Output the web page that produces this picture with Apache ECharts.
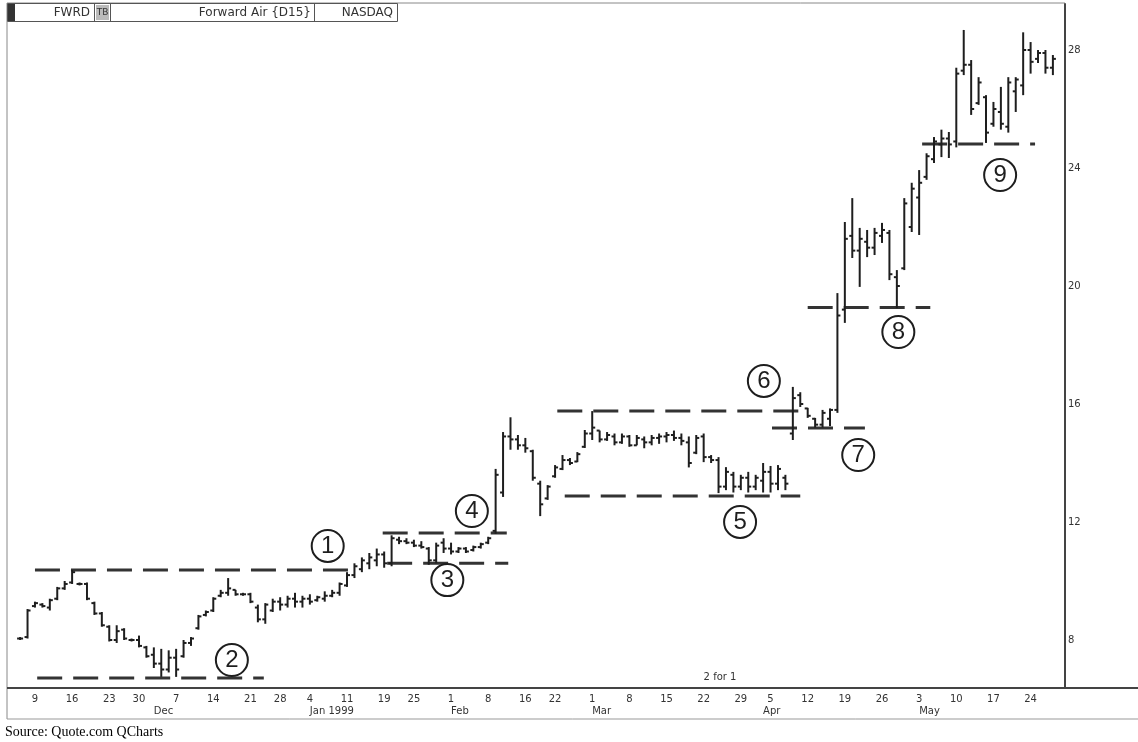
<!DOCTYPE html>
<html>
<head>
<meta charset="utf-8">
<title>FWRD</title>
<script src="https://cdn.jsdelivr.net/npm/echarts@6/dist/echarts.min.js"></script>
<style>
    html, body {margin: 0; padding: 0; background: #fff;}
    #main {width: 1138px; height: 742px;}
</style>
</head>
<body>
<div id="main"></div>
<script>
// ------------------ data (daily bars, Nov 5 1998 .. May 27 1999) ------------------
const days = [
    '11/5', '11/6', '11/9', '11/10', '11/11', '11/12', '11/13', '11/16', '11/17', '11/18', '11/19', '11/20',
    '11/23', '11/24', '11/25', '11/27', '11/30',
    '12/1', '12/2', '12/3', '12/4', '12/7', '12/8', '12/9', '12/10', '12/11', '12/14', '12/15', '12/16', '12/17', '12/18',
    '12/21', '12/22', '12/23', '12/24', '12/28', '12/29', '12/30', '12/31',
    '1/4', '1/5', '1/6', '1/7', '1/8', '1/11', '1/12', '1/13', '1/14', '1/15', '1/19', '1/20', '1/21', '1/22',
    '1/25', '1/26', '1/27', '1/28', '1/29',
    '2/1', '2/2', '2/3', '2/4', '2/5', '2/8', '2/9', '2/10', '2/11', '2/12', '2/16', '2/17', '2/18', '2/19',
    '2/22', '2/23', '2/24', '2/25', '2/26',
    '3/1', '3/2', '3/3', '3/4', '3/5', '3/8', '3/9', '3/10', '3/11', '3/12', '3/15', '3/16', '3/17', '3/18', '3/19',
    '3/22', '3/23', '3/24', '3/25', '3/26', '3/29', '3/30', '3/31',
    '4/1', '4/5', '4/6', '4/7', '4/8', '4/9', '4/12', '4/13', '4/14', '4/15', '4/16', '4/19', '4/20', '4/21', '4/22', '4/23',
    '4/26', '4/27', '4/28', '4/29', '4/30',
    '5/3', '5/4', '5/5', '5/6', '5/7', '5/10', '5/11', '5/12', '5/13', '5/14', '5/17', '5/18', '5/19', '5/20', '5/21',
    '5/24', '5/25', '5/26', '5/27'
];

const opens = [
    8.05, 8.1, 9.15, 9.2, 9.1, 9.4, 9.75, 9.95, 9.9, 9.9,
    9.25, 8.9, 8.45, 8.0, 8.35, 8.0, 8.0, 7.75, 7.5, 7.2,
    7.0, 7.4, 7.45, 7.9, 8.4, 8.85, 9.0, 9.5, 9.6, 9.7,
    9.55, 9.55, 9.1, 8.7, 9.0, 9.3, 9.2, 9.4, 9.3, 9.4,
    9.35, 9.4, 9.5, 9.6, 9.85, 10.2, 10.4, 10.6, 10.7, 10.9,
    10.6, 11.4, 11.35, 11.3, 11.2, 11.1, 10.7, 11.3, 11.1, 11.0,
    11.1, 11.05, 11.15, 11.3, 11.7, 13.0, 14.9, 14.8, 14.6, 14.4,
    13.3, 12.8, 13.55, 13.8, 14.1, 14.05, 14.55, 15.0, 15.1, 14.8,
    14.9, 14.7, 14.9, 14.6, 14.8, 14.7, 14.85, 14.9, 14.95, 14.85,
    14.7, 14.35, 14.9, 14.2, 14.1, 13.2, 13.6, 13.2, 13.5, 13.2,
    13.4, 13.7, 13.3, 13.5, 15.0, 16.3, 15.85, 15.5, 15.3, 15.5,
    15.8, 19.2, 21.7, 21.2, 21.5, 21.3, 21.7, 21.8, 20.3, 20.6,
    22.0, 23.0, 23.7, 24.3, 24.8, 25.0, 24.9, 27.3, 27.5, 26.2,
    26.4, 25.5, 25.9, 25.4, 26.6, 26.8, 28.0, 27.7, 27.9, 27.4
];
const highs = [
    8.1, 9.05, 9.3, 9.25, 9.4, 9.8, 10.0, 10.37, 9.95, 9.95,
    9.3, 8.95, 8.5, 8.5, 8.4, 8.05, 8.15, 7.8, 7.75, 7.7,
    7.65, 7.7, 8.0, 8.1, 8.85, 9.0, 9.45, 9.7, 10.1, 9.7,
    9.6, 9.6, 9.2, 9.25, 9.4, 9.45, 9.5, 9.6, 9.5, 9.55,
    9.5, 9.65, 9.7, 9.95, 10.3, 10.6, 10.8, 10.95, 11.1, 11.0,
    11.55, 11.5, 11.45, 11.4, 11.35, 11.15, 11.3, 11.45, 11.3, 11.15,
    11.15, 11.2, 11.3, 11.5, 13.8, 15.05, 15.55, 14.95, 14.85, 14.45,
    13.4, 13.25, 13.93, 14.27, 14.17, 14.37, 15.12, 15.76, 15.1, 15.05,
    15.0, 15.0, 14.95, 14.95, 14.9, 14.95, 15.0, 15.05, 15.1, 15.0,
    14.9, 14.95, 15.0, 14.27, 14.2, 13.86, 13.7, 13.6, 13.7, 13.6,
    14.0, 13.9, 13.93, 13.6, 16.58, 16.4, 15.87, 15.53, 15.8, 15.85,
    19.76, 22.17, 22.98, 21.97, 21.9, 21.97, 22.14, 21.9, 20.54, 22.98,
    23.5, 23.93, 24.5, 25.05, 25.3, 25.22, 27.4, 28.68, 27.66, 27.08,
    26.47, 26.24, 26.75, 27.08, 27.08, 28.6, 28.27, 28.0, 28.0, 27.83
];
const lows = [
    8.0, 8.05, 9.1, 9.1, 9.0, 9.35, 9.7, 9.9, 9.85, 9.35,
    8.85, 8.45, 7.95, 7.9, 8.0, 7.95, 7.75, 7.4, 7.05, 6.75,
    6.9, 6.75, 7.4, 7.8, 8.35, 8.8, 8.95, 9.45, 9.5, 9.5,
    9.5, 9.25, 8.6, 8.55, 8.95, 9.0, 9.1, 9.1, 9.1, 9.2,
    9.3, 9.3, 9.45, 9.5, 9.8, 10.1, 10.3, 10.4, 10.5, 10.45,
    10.5, 11.25, 11.25, 11.15, 11.1, 10.55, 10.6, 10.95, 10.9, 10.95,
    10.95, 11.0, 11.1, 11.25, 11.6, 12.85, 14.45, 14.45, 14.35, 13.4,
    12.2, 12.75, 13.5, 13.76, 13.93, 14.03, 14.51, 14.78, 14.7, 14.75,
    14.6, 14.65, 14.55, 14.6, 14.5, 14.6, 14.65, 14.7, 14.75, 14.6,
    13.85, 14.3, 14.03, 14.0, 12.98, 13.08, 13.0, 13.08, 13.0, 13.08,
    13.0, 13.0, 13.08, 13.08, 14.78, 15.9, 15.53, 15.2, 15.2, 15.25,
    15.7, 18.75, 20.95, 19.97, 20.98, 21.05, 21.46, 20.2, 19.25, 20.54,
    21.83, 21.73, 23.6, 24.17, 24.37, 24.34, 24.7, 27.15, 25.8, 26.14,
    24.85, 25.4, 25.3, 25.2, 25.9, 26.47, 27.2, 27.56, 27.2, 27.15
];
const closes = [
    8.05, 9.0, 9.25, 9.15, 9.35, 9.75, 9.9, 10.3, 9.9, 9.4,
    8.9, 8.5, 8.0, 8.3, 8.05, 8.0, 7.8, 7.45, 7.2, 7.0,
    7.4, 7.0, 7.9, 8.05, 8.8, 8.95, 9.4, 9.6, 9.75, 9.55,
    9.55, 9.3, 8.7, 9.2, 9.3, 9.2, 9.4, 9.3, 9.4, 9.3,
    9.45, 9.5, 9.6, 9.9, 10.2, 10.5, 10.7, 10.8, 10.9, 10.6,
    11.45, 11.35, 11.3, 11.2, 11.15, 10.7, 11.2, 11.1, 11.0, 11.1,
    11.0, 11.15, 11.25, 11.45, 13.6, 14.9, 14.8, 14.6, 14.5, 13.5,
    12.6, 13.2, 13.85, 14.1, 14.0, 14.3, 15.0, 15.2, 14.8, 14.95,
    14.7, 14.9, 14.6, 14.85, 14.7, 14.85, 14.9, 14.95, 14.85, 14.75,
    14.0, 14.85, 14.2, 14.1, 13.2, 13.7, 13.2, 13.5, 13.2, 13.5,
    13.7, 13.3, 13.8, 13.3, 16.2, 16.0, 15.6, 15.3, 15.7, 15.8,
    19.0, 21.6, 21.2, 21.6, 21.3, 21.8, 21.9, 20.4, 20.0, 22.8,
    23.3, 23.5, 24.4, 24.9, 25.0, 24.8, 27.2, 27.5, 26.0, 26.9,
    25.2, 26.0, 25.5, 26.9, 27.0, 28.0, 27.6, 27.9, 27.4, 27.7
];

// axis labels
const weekTicks = ['11/9', '11/16', '11/23', '11/30', '12/7', '12/14', '12/21', '12/28', '1/4', '1/11', '1/19', '1/25',
    '2/1', '2/8', '2/16', '2/22', '3/1', '3/8', '3/15', '3/22', '3/29', '4/5', '4/12', '4/19', '4/26',
    '5/3', '5/10', '5/17', '5/24'];
const monthTicks = ['12/2', '1/4', '2/1', '3/1', '4/1', '5/3'];
const monthNames = ['Dec', 'Jan 1999', 'Feb', 'Mar', 'Apr', 'May'];
const priceTicks = [8, 12, 16, 20, 24, 28];

// dashed support / resistance lines (price, from bar, to bar)
const levelPrice = [10.37, 6.71, 10.6, 11.63, 12.88, 15.76, 15.19, 19.27, 24.81];
const levelFrom = [2, 2.3, 49.4, 48.8, 73.3, 72.3, 101.2, 106, 121.4];
const levelTo = [45.5, 32.8, 65.7, 65.5, 105, 105.2, 113.7, 122.5, 136.6];

// circled numbers (bar position, price)
const noteText = ['1', '2', '3', '4', '5', '6', '7', '8', '9'];
const noteBar = [41.4, 28.5, 57.5, 60.8, 96.9, 100.1, 112.8, 118.2, 131.9];
const notePrice = [11.19, 7.32, 10.03, 12.37, 12.0, 16.78, 14.27, 18.44, 23.76];

// ------------------ chart ------------------
const INK = '#1e1e1e';
const FONT = 'DejaVu Sans';

let bars = days.map(function (d, i) {
    return [i, opens[i], closes[i], lows[i], highs[i]];
});

function renderBar(params, api) {
    let x = api.coord([api.value(0), 0])[0];
    let o = api.coord([0, api.value(1)])[1];
    let c = api.coord([0, api.value(2)])[1];
    let l = api.coord([0, api.value(3)])[1];
    let h = api.coord([0, api.value(4)])[1];
    if (l - h < 2) {
        h -= 1;
        l += 1;
    }
    let st = {stroke: INK, lineWidth: 2};
    return {
        type: 'group',
        children: [
            {type: 'line', shape: {x1: x, y1: h, x2: x, y2: l}, style: st},
            {type: 'line', shape: {x1: x - 3, y1: o, x2: x, y2: o}, style: st},
            {type: 'line', shape: {x1: x, y1: c, x2: x + 3, y2: c}, style: st}
        ]
    };
}

let levelSeries = levelPrice.map(function (p, i) {
    return {
        type: 'line',
        silent: true,
        symbol: 'none',
        z: 3,
        lineStyle: {color: '#333', width: 3, type: [25, 11]},
        data: [[levelFrom[i], p], [levelTo[i], p]]
    };
});

let idx = function (d) {
    return days.indexOf(d);
};

let myChart = echarts.init(document.getElementById('main'), null, {renderer: 'canvas'});

let option = {
    animation: false,
    backgroundColor: '#fff',
    grid: {left: 7, right: 73, top: 4, bottom: 54},
    xAxis: [{
        type: 'value',
        min: -1.763,
        max: 140.63,
        axisLine: {show: false, onZero: false},
        splitLine: {show: false},
        axisTick: {show: false},
        axisLabel: {
            customValues: weekTicks.map(idx),
            formatter: function (v) {
                return days[Math.round(v)].split('/')[1];
            },
            margin: 6,
            color: '#333',
            fontSize: 10,
            fontFamily: FONT
        }
    }, {
        type: 'value',
        min: -1.763,
        max: 140.63,
        position: 'bottom',
        offset: 12,
        axisLine: {show: false, onZero: false},
        splitLine: {show: false},
        axisTick: {show: false},
        axisLabel: {
            customValues: monthTicks.map(idx),
            formatter: function (v) {
                return monthNames[monthTicks.map(idx).indexOf(Math.round(v))];
            },
            align: 'left',
            margin: 6,
            color: '#333',
            fontSize: 10,
            fontFamily: FONT
        }
    }],
    yAxis: {
        type: 'value',
        position: 'right',
        min: 6.373,
        max: 29.56,
        axisLine: {show: true, onZero: false, lineStyle: {color: '#444', width: 2}},
        splitLine: {show: false},
        axisTick: {show: false},
        axisLabel: {
            customValues: priceTicks,
            margin: 3,
            color: '#333',
            fontSize: 10,
            fontFamily: FONT
        }
    },
    series: [{
        type: 'custom',
        name: 'FWRD',
        renderItem: renderBar,
        encode: {x: 0, y: [1, 2, 3, 4]},
        z: 4,
        data: bars
    }].concat(levelSeries).concat([{
        type: 'scatter',
        silent: true,
        symbol: 'circle',
        symbolSize: 32,
        z: 5,
        itemStyle: {color: 'rgba(255,255,255,0)', borderColor: INK, borderWidth: 2, opacity: 1},
        label: {
            show: true,
            position: 'inside',
            formatter: function (p) {
                return p.value[2];
            },
            color: INK,
            fontSize: 24,
            fontFamily: 'Liberation Sans'
        },
        data: noteText.map(function (t, i) {
            return [noteBar[i], notePrice[i], t];
        })
    }]),
    graphic: [
        // frame
        {type: 'line', shape: {x1: 7, y1: 3, x2: 1065, y2: 3}, style: {stroke: '#888', lineWidth: 1}},
        {type: 'line', shape: {x1: 7, y1: 3, x2: 7, y2: 719}, style: {stroke: '#888', lineWidth: 1}},
        {type: 'line', shape: {x1: 7, y1: 688, x2: 1138, y2: 688}, style: {stroke: '#444', lineWidth: 2}},
        {type: 'line', shape: {x1: 7, y1: 719, x2: 1138, y2: 719}, style: {stroke: '#999', lineWidth: 1}},
        // header
        {type: 'rect', shape: {x: 7.5, y: 3.5, width: 390, height: 18}, style: {fill: '#fff', stroke: '#555', lineWidth: 1}},
        {type: 'rect', shape: {x: 8, y: 4, width: 7, height: 17}, style: {fill: '#333'}},
        {type: 'line', shape: {x1: 94.5, y1: 3.5, x2: 94.5, y2: 21.5}, style: {stroke: '#555'}},
        {type: 'rect', shape: {x: 96, y: 5, width: 13, height: 15}, style: {fill: '#bbb'}},
        {type: 'line', shape: {x1: 110.5, y1: 3.5, x2: 110.5, y2: 21.5}, style: {stroke: '#555'}},
        {type: 'line', shape: {x1: 314.5, y1: 3.5, x2: 314.5, y2: 21.5}, style: {stroke: '#555'}},
        {type: 'text', x: 90, y: 13, style: {text: 'FWRD', fill: '#333', font: '12px ' + FONT, textAlign: 'right', textVerticalAlign: 'middle'}},
        {type: 'text', x: 102.5, y: 13, style: {text: 'TB', fill: '#333', font: '9px ' + FONT, textAlign: 'center', textVerticalAlign: 'middle'}},
        {type: 'text', x: 311, y: 13, style: {text: 'Forward Air {D15}', fill: '#333', font: '12px ' + FONT, textAlign: 'right', textVerticalAlign: 'middle'}},
        {type: 'text', x: 393, y: 13, style: {text: 'NASDAQ', fill: '#333', font: '12px ' + FONT, textAlign: 'right', textVerticalAlign: 'middle'}},
        // split note + source
        {type: 'text', x: 720, y: 677, style: {text: '2 for 1', fill: '#333', font: '10px ' + FONT, textAlign: 'center', textVerticalAlign: 'middle'}},
        {type: 'text', x: 5, y: 732, style: {text: 'Source: Quote.com QCharts', fill: '#000', font: '14px Liberation Serif', textAlign: 'left', textVerticalAlign: 'middle'}}
    ]
};

myChart.setOption(option, true);
</script>
</body>
</html>
